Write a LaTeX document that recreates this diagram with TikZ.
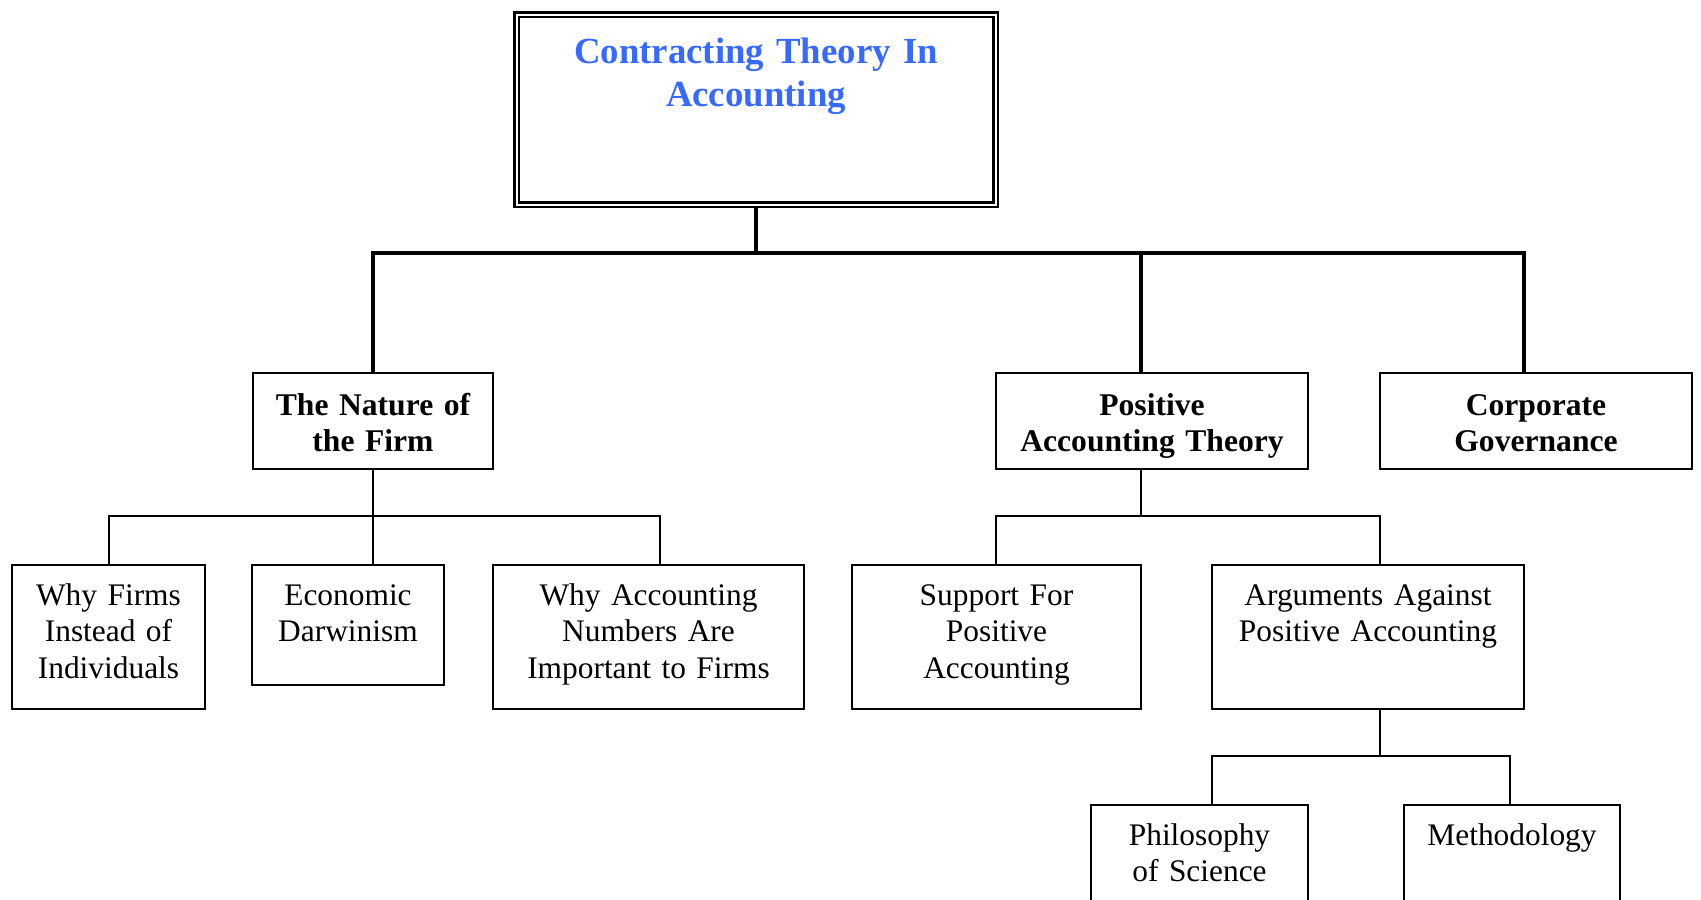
\documentclass[tikz,border=0pt]{standalone}
\usepackage{fontspec}
\setmainfont{Liberation Serif}
\usepackage{xcolor}
\usepackage{tikz}
\usetikzlibrary{positioning}
\definecolor{titleblue}{RGB}{55,105,255}
\tikzstyle{headbox} = [rectangle, draw, double, line width=1.25pt, double distance=1pt,
    inner sep=0pt, anchor=north, align=center, text=titleblue,
    font=\fontsize{18.4}{21.5}\selectfont\bfseries]
\tikzstyle{topic} = [rectangle, draw, line width=1pt, inner sep=0pt, anchor=north,
    align=center, text height=21pt, text depth=27pt,
    font=\fontsize{15.8}{18.4}\selectfont\bfseries]
\tikzstyle{subtopic} = [rectangle, draw, line width=1pt, inner sep=0pt, anchor=north,
    align=center, text height=20pt, text depth=52pt,
    font=\fontsize{15.7}{18.4}\selectfont]
\tikzstyle{heavy} = [draw, line width=2pt]
\tikzstyle{light} = [draw, line width=1pt]

\begin{document}
\begin{tikzpicture}[x=0.5pt,y=-0.5pt]
    \useasboundingbox (0,0) rectangle (1701,899);
    % Place nodes
    \node [headbox, text width=239.5pt, text height=24.25pt, text depth=70.75pt] (title) at (756,13.5) {Contracting Theory In\\Accounting};
    \node [topic, text width=120pt] (nature) at (373,372) {The Nature of\\the Firm};
    \node [topic, text width=156pt] (pat) at (1152,372) {Positive\\Accounting Theory};
    \node [topic, text width=156pt] (gov) at (1536,372) {Corporate\\Governance};
    \node [subtopic, text width=96.5pt] (why) at (108.5,564) {Why Firms\\Instead of\\Individuals};
    \node [subtopic, text width=96pt, text depth=40pt] (darwin) at (348,564) {Economic\\Darwinism};
    \node [subtopic, text width=155.5pt] (numbers) at (648.5,564) {Why Accounting\\Numbers Are\\Important to Firms};
    \node [subtopic, text width=144.5pt] (support) at (996.5,564) {Support For\\Positive\\Accounting};
    \node [subtopic, text width=156pt] (against) at (1368,564) {Arguments Against\\Positive Accounting};
    \node [subtopic, text width=108.5pt, text depth=80pt] (philo) at (1199.5,804) {Philosophy\\of Science};
    \node [subtopic, text width=108pt, text depth=80pt] (method) at (1512,804) {Methodology};
    % Junctions
    \coordinate (busL) at (373,253);
    \coordinate (busM) at (1141,253);
    \coordinate (busR) at (1524,253);
    \coordinate (natL) at (109,516);
    \coordinate (natR) at (660,516);
    \coordinate (patJ) at (1141,516);
    \coordinate (patL) at (996,516);
    \coordinate (patR) at (1380,516);
    \coordinate (argJ) at (1380,756);
    \coordinate (argL) at (1212,756);
    \coordinate (argR) at (1510,756);
    % Draw edges
    \path [heavy] (title.south) -- (title.south |- busL);
    \path [heavy] (busL |- nature.north) -- (busL) -- (busR) -- (busR |- gov.north);
    \path [heavy] (busM) -- (busM |- pat.north);
    \path [light] (nature.south) -- (nature.south |- darwin.north);
    \path [light] (natL |- why.north) -- (natL) -- (natR) -- (natR |- numbers.north);
    \path [light] (patJ |- pat.south) -- (patJ);
    \path [light] (patL |- support.north) -- (patL) -- (patR) -- (patR |- against.north);
    \path [light] (argJ |- against.south) -- (argJ);
    \path [light] (argL |- philo.north) -- (argL) -- (argR) -- (argR |- method.north);
\end{tikzpicture}
\end{document}
